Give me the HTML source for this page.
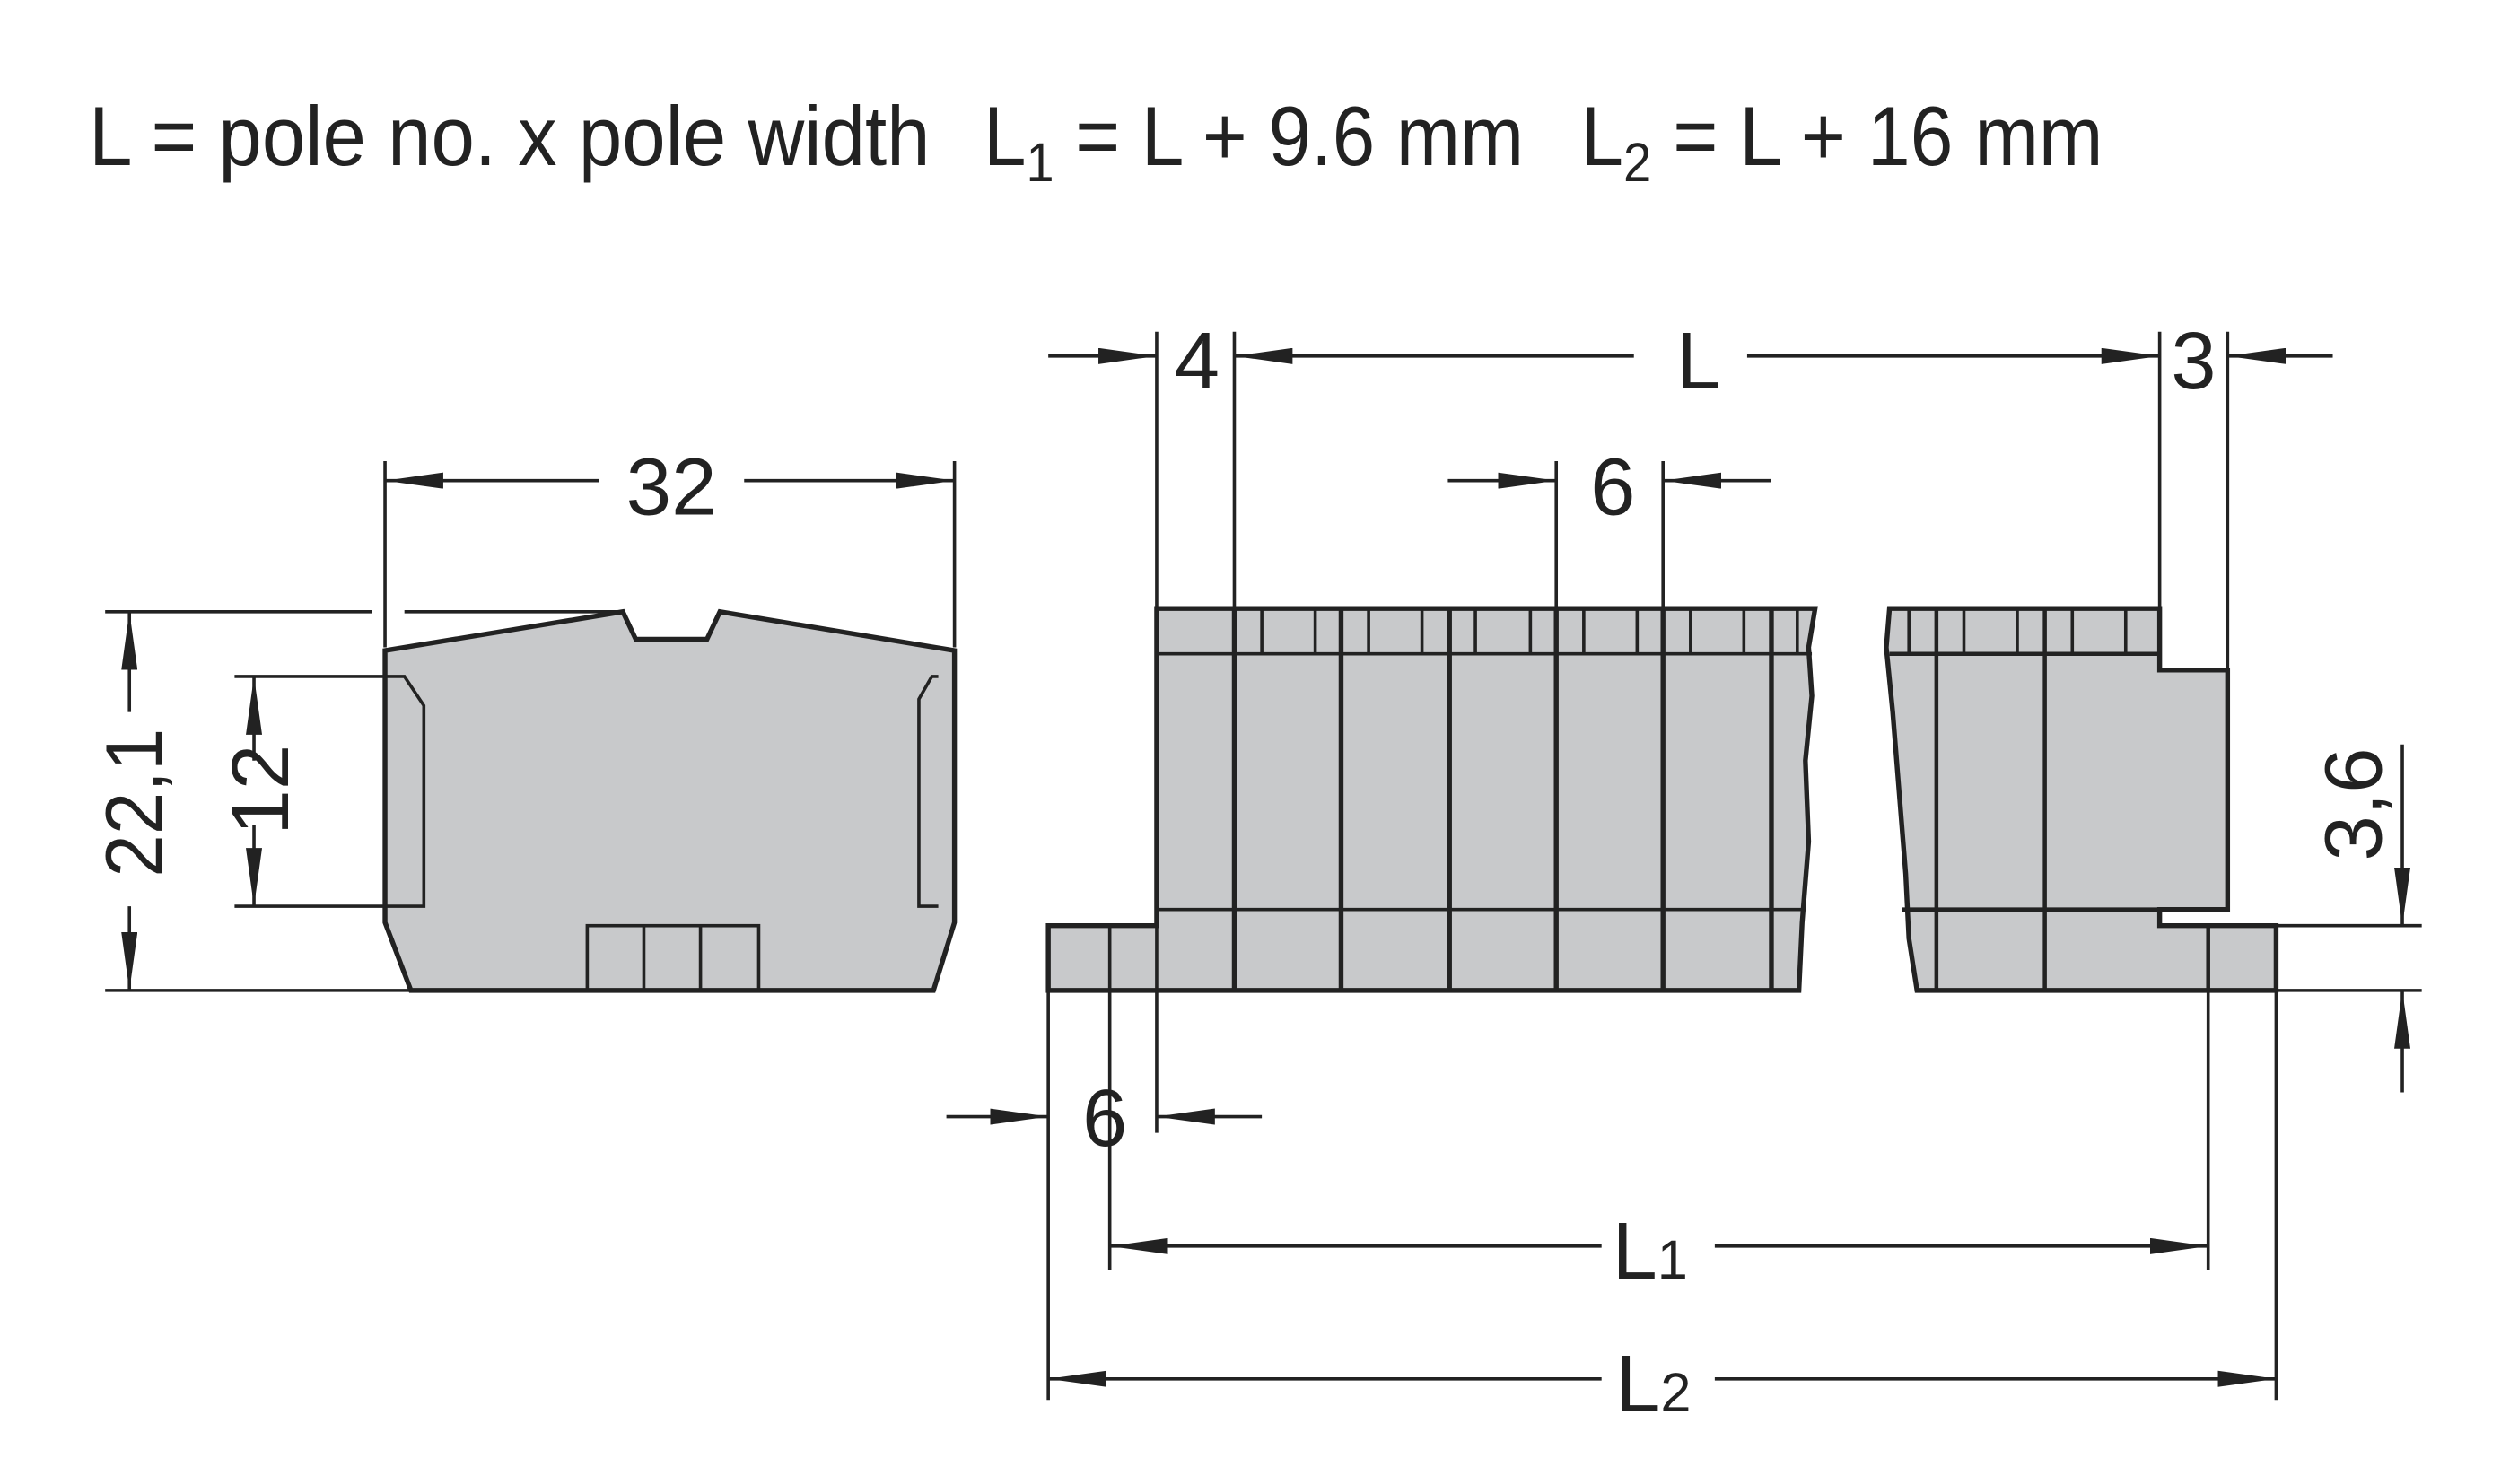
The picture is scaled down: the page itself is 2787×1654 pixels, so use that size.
<!DOCTYPE html>
<html><head><style>html,body{margin:0;padding:0;background:#fff}svg{display:block}</style></head><body>
<svg width="2787" height="1654" viewBox="0 0 1546 917" preserveAspectRatio="none" xmlns="http://www.w3.org/2000/svg" font-family="Liberation Sans, sans-serif">
<defs>
<marker id="b" viewBox="0 0 36 10" markerWidth="36" markerHeight="10" refX="36" refY="5" orient="auto" markerUnits="userSpaceOnUse"><path d="M0,0L36,5L0,10Z" fill="#222"/></marker>
</defs>
<g fill="#222" font-size="52">
<text x="55" y="102" textLength="520" lengthAdjust="spacingAndGlyphs">L = pole no. x pole width</text>
<text x="608" y="102" textLength="334" lengthAdjust="spacingAndGlyphs">L<tspan font-size="34" dy="10">1</tspan><tspan dy="-10"> = L + 9.6 mm</tspan></text>
<text x="977" y="102" textLength="323" lengthAdjust="spacingAndGlyphs">L<tspan font-size="34" dy="10">2</tspan><tspan dy="-10"> = L + 16 mm</tspan></text>
</g>
<g stroke="#222" fill="none" stroke-width="2">
<polygon points="238,402 385,378 393,395 437,395 445,378 590,402 590,570 577,612 254,612 238,570" fill="#c8c9cb" stroke-width="3"/>
<path d="M238,418H250L262,436V560H238"/>
<path d="M580,418H576L568,432V560H580"/>
<rect x="363" y="572" width="106" height="40"/>
<path d="M398,572V612M433,572V612"/>
<path d="M238,285V400M590,285V400"/>
<path d="M370,297H238" marker-end="url(#b)"/><path d="M460,297H590" marker-end="url(#b)"/>
<path d="M65,378H230M250,378H385M65,612H254M145,418H238M145,560H238"/>
<path d="M80,440V378" marker-end="url(#b)"/><path d="M80,560V612" marker-end="url(#b)"/>
<path d="M157,470V418" marker-end="url(#b)"/><path d="M157,510V560" marker-end="url(#b)"/>
<path d="M715,376H1122L1118,400L1120,430L1116,470L1118,520L1114,570L1112,612H648V572H715Z" fill="#c8c9cb" stroke-width="3"/>
<path d="M715,404H1120M715,562H1115M686,572V612M715,572V612"/>
<path d="M763,376V612M829,376V612M896,376V612M962,376V612M1028,376V612M1095,376V612" stroke-width="3"/>
<path d="M780,376V404M813,376V404M846,376V404M879,376V404M912,376V404M946,376V404M979,376V404M1012,376V404M1045,376V404M1078,376V404M1111,376V404"/>
<path d="M1168,376H1335V414H1377V562H1335V572H1407V612H1185L1180,580L1178,540L1174,490L1170,440L1166,400Z" fill="#c8c9cb" stroke-width="3"/>
<path d="M1168,404H1335M1176,562H1335M1197,376V612M1264,376V612M1335,376V414M1365,572V612" stroke-width="2.5"/>
<path d="M1180,376V404M1214,376V404M1247,376V404M1281,376V404M1314,376V404"/>
<path d="M715,205V376M763,205V376M1335,205V376M1377,205V414"/>
<path d="M648,220H715" marker-end="url(#b)"/>
<path d="M1010,220H763" marker-end="url(#b)"/><path d="M1080,220H1335" marker-end="url(#b)"/>
<path d="M1442,220H1377" marker-end="url(#b)"/>
<path d="M962,285V376M1028,285V376"/>
<path d="M895,297H962" marker-end="url(#b)"/><path d="M1095,297H1028" marker-end="url(#b)"/>
<path d="M648,612V865M686,612V785M715,612V700M1365,612V785M1407,612V865"/>
<path d="M585,690H648" marker-end="url(#b)"/><path d="M780,690H715" marker-end="url(#b)"/>
<path d="M990,770H686" marker-end="url(#b)"/><path d="M1060,770H1365" marker-end="url(#b)"/>
<path d="M990,852H648" marker-end="url(#b)"/><path d="M1060,852H1407" marker-end="url(#b)"/>
<path d="M1407,572H1497M1407,612H1497"/>
<path d="M1485,460V572" marker-end="url(#b)"/><path d="M1485,675V612" marker-end="url(#b)"/>
</g>
<g fill="#222" font-size="50">
<text x="415" y="318" text-anchor="middle" textLength="56" lengthAdjust="spacingAndGlyphs">32</text>
<text x="740" y="240" text-anchor="middle">4</text>
<text x="1050" y="240" text-anchor="middle">L</text>
<text x="1356" y="240" text-anchor="middle">3</text>
<text x="997" y="318" text-anchor="middle">6</text>
<text x="683" y="708" text-anchor="middle">6</text>
<text x="1020" y="790" text-anchor="middle">L<tspan font-size="34">1</tspan></text>
<text x="1022" y="872" text-anchor="middle">L<tspan font-size="34">2</tspan></text>
<text transform="translate(100,496) rotate(-90)" text-anchor="middle" textLength="92" lengthAdjust="spacingAndGlyphs">22,1</text>
<text transform="translate(178,488) rotate(-90)" text-anchor="middle" textLength="56" lengthAdjust="spacingAndGlyphs">12</text>
<text transform="translate(1472,497) rotate(-90)" text-anchor="middle" textLength="70" lengthAdjust="spacingAndGlyphs">3,6</text>
</g>
</svg>
</body></html>
